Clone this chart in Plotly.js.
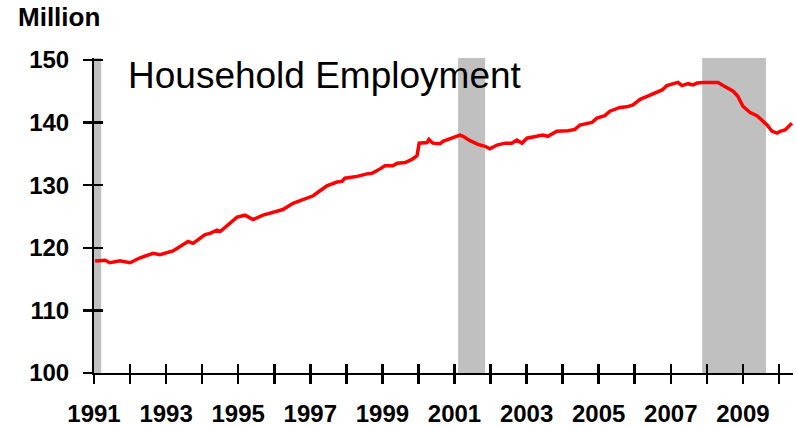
<!DOCTYPE html>
<html>
<head>
<meta charset="utf-8">
<script src="https://cdn.plot.ly/plotly-3.0.1.min.js"></script>
<style>html,body{margin:0;padding:0;background:#fff;}#chart{width:796px;height:426px;}</style>
</head>
<body>
<div id="chart"></div>
<script>
// Decimal-year positions of readings (monthly household employment, millions)
const dates = [1991.03,1991.31,1991.44,1991.72,1992.00,1992.14,1992.28,1992.64,1992.83,1993.19,
1993.39,1993.61,1993.75,1994.08,1994.22,1994.41,1994.50,1994.77,1994.97,1995.19,
1995.41,1995.69,1995.88,1996.24,1996.52,1996.80,1997.08,1997.27,1997.46,1997.74,
1997.88,1997.96,1998.30,1998.57,1998.71,1998.88,1999.07,1999.29,1999.41,1999.63,
1999.82,1999.96,2000.02,2000.24,2000.29,2000.40,2000.60,2000.68,2000.93,2001.15,
2001.24,2001.43,2001.65,2001.85,2001.98,2002.18,2002.40,2002.59,2002.73,2002.87,
2003.01,2003.29,2003.45,2003.59,2003.84,2004.15,2004.34,2004.48,2004.68,2004.81,
2004.95,2005.17,2005.31,2005.59,2005.78,2005.95,2006.15,2006.42,2006.56,2006.76,
2006.89,2007.06,2007.20,2007.31,2007.48,2007.62,2007.73,2007.89,2008.09,2008.31,
2008.45,2008.73,2008.86,2009.00,2009.20,2009.39,2009.56,2009.67,2009.81,2009.95,
2010.03,2010.17,2010.36];
const employment = [117.9,118.0,117.6,117.9,117.6,118.0,118.4,119.1,118.9,119.5,
120.2,121.0,120.7,122.1,122.3,122.8,122.6,123.9,124.9,125.2,
124.5,125.2,125.5,126.1,127.1,127.7,128.3,129.1,129.9,130.5,
130.6,131.1,131.4,131.8,131.9,132.4,133.1,133.1,133.5,133.6,
134.1,134.7,136.7,136.8,137.3,136.7,136.6,137.0,137.5,138.0,
137.8,137.1,136.5,136.2,135.8,136.4,136.7,136.7,137.2,136.7,
137.5,137.8,138.0,137.8,138.6,138.7,138.9,139.6,139.9,140.0,
140.7,141.1,141.8,142.4,142.5,142.8,143.7,144.4,144.7,145.2,
145.9,146.1,146.4,145.9,146.2,146.0,146.3,146.4,146.4,146.4,
145.9,145.0,144.2,142.6,141.6,141.1,140.2,139.6,138.6,138.3,
138.6,138.8,139.9];
// Recession periods (start, end) in decimal years
const recessionStart = [1991.0, 2001.10, 2007.87];
const recessionEnd   = [1991.2, 2001.85, 2009.64];
// Axis ticks
const yearTicks = [1991,1992,1993,1994,1995,1996,1997,1998,1999,2000,2001,2002,2003,2004,2005,2006,2007,2008,2009,2010];
const yearLabels = ["1991","","1993","","1995","","1997","","1999","","2001","","2003","","2005","","2007","","2009",""];
const yTicks = [100,110,120,130,140,150];
const titleText = "Household Employment";
const unitText = "Million";

const xRange = [1991, 2010.39];
const yRange = [100, 150.3];
const tickFont = {family: "Liberation Sans, Arial, sans-serif", size: 24, color: "#000", weight: "bold"};

const shapes = recessionStart.map((s, i) => ({
  type: "rect", xref: "x", yref: "paper", x0: s, x1: recessionEnd[i], y0: 0, y1: 1,
  fillcolor: "#c0c0c0", line: {width: 0}, layer: "below"
}));

const data = [
  {x: dates, y: employment, type: "scatter", mode: "lines",
   line: {color: "#ff0000", width: 3.5}, hoverinfo: "skip"},
  {x: [2000], y: [120], xaxis: "x2", yaxis: "y2", type: "scatter", mode: "markers",
   marker: {opacity: 0, size: 1}, hoverinfo: "skip"}
];

const layout = {
  width: 796, height: 426,
  margin: {l: 94, r: 3, t: 58, b: 53, pad: 0},
  paper_bgcolor: "#fff", plot_bgcolor: "rgba(0,0,0,0)",
  showlegend: false,
  xaxis: {domain: [0, 1], range: xRange, tickmode: "array", tickvals: yearTicks, ticktext: yearLabels,
    ticks: "outside", ticklen: 9, tickwidth: 2.5, tickcolor: "#000",
    showline: true, linecolor: "#000", linewidth: 2, showgrid: false, zeroline: false,
    tickfont: tickFont, ticklabelstandoff: 9, fixedrange: true},
  yaxis: {domain: [0, 1], range: yRange, tickmode: "array", tickvals: yTicks,
    ticks: "outside", ticklen: 9, tickwidth: 2.5, tickcolor: "#000",
    showline: true, linecolor: "#000", linewidth: 2, showgrid: false, zeroline: false,
    tickfont: tickFont, ticklabelstandoff: 9, fixedrange: true},
  xaxis2: {domain: [0, 1], anchor: "y2", side: "bottom", range: xRange, tickmode: "array", tickvals: yearTicks,
    ticks: "inside", ticklen: 9, tickwidth: 2.5, tickcolor: "#000", showticklabels: false,
    showline: false, showgrid: false, zeroline: false, fixedrange: true},
  yaxis2: {domain: [0, 1], anchor: "x2", side: "left", range: yRange, tickmode: "array", tickvals: yTicks,
    ticks: "inside", ticklen: 9, tickwidth: 2.5, tickcolor: "#000", showticklabels: false,
    showline: false, showgrid: false, zeroline: false, fixedrange: true},
  shapes: shapes,
  annotations: [
    {text: titleText, xref: "paper", yref: "paper", x: 0.0458, y: 0.943,
     xanchor: "left", yanchor: "middle", showarrow: false,
     font: {family: "Liberation Sans, Arial, sans-serif", size: 37, color: "#000"}},
    {text: unitText, xref: "paper", yref: "paper", x: -0.112, y: 1.129,
     xanchor: "left", yanchor: "middle", showarrow: false,
     font: {family: "Liberation Sans, Arial, sans-serif", size: 26, color: "#000", weight: "bold"}}
  ]
};

Plotly.newPlot("chart", data, layout, {displayModeBar: false, staticPlot: true});
</script>
</body>
</html>
